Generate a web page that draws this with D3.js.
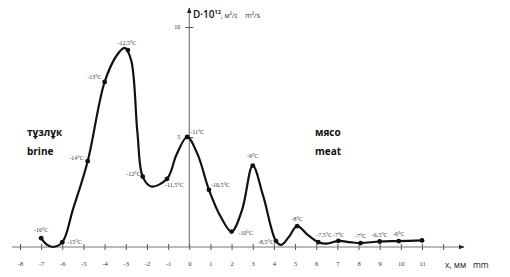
<!DOCTYPE html>
<html><head><meta charset="utf-8">
<script src="https://cdn.jsdelivr.net/npm/d3@7"></script>
<style>body{margin:0;background:#fff}svg{display:block}</style>
</head><body>
<script>
// ---- data ----
const xTicks = [-8,-7,-6,-5,-4,-3,-2,-1,0,1,2,3,4,5,6,7,8,9,10,11,12];
const xTickLabels = ["-8","-7","-6","-5","-4","-3","-2","-1","0","1","2","3","4","5","6","7","8","9","10","11",""];
const yTicks = [5,10];
// marked points
const pointX = [-7,-6,-4.8,-4,-2.9,-2.2,-1.05,-0.1,0.93,2.0,3.0,4.1,5.1,6.1,7.05,8.1,9.0,9.9,11];
const pointD = [0.4,0.22,3.9,7.5,8.95,3.2,3.1,5.0,2.6,0.7,3.7,0.27,0.95,0.22,0.28,0.18,0.25,0.27,0.3];
const pointTemp = ["-16°C","-15°C","-14°C","-13°C","-12,5°C","-12°C","-11,5°C","-11°C","-10,5°C","-10°C","-9°C","-8,5°C","-8°C","-7,5°C","-7°C","-7°C","-6,5°C","-6°C",""];
// smooth curve through points and unmarked extremes
const curveX = [-7,-6.75,-6.45,-6,-5.5,-4.8,-4,-3.4,-3.05,-2.75,-2.45,-2.2,-1.8,-1.05,-0.6,-0.1,0.4,0.93,1.5,2.0,2.5,3.0,3.5,4.1,4.35,4.7,5.1,5.6,6.1,6.5,7.05,7.6,8.1,9.0,9.9,11];
const curveD = [0.4,0.12,0.0,0.22,1.7,3.9,7.5,8.75,9.05,8.5,5.2,3.2,2.75,3.1,4.2,5.0,4.2,2.6,1.35,0.7,1.7,3.7,2.3,0.27,0.1,0.45,0.95,0.55,0.22,0.15,0.28,0.22,0.18,0.25,0.27,0.3];

// ---- drawing ----
const W=510,H=277;
const svg=d3.select("body").append("svg").attr("width",W).attr("height",H);
const x=d3.scaleLinear().domain([-8,11]).range([20,422]);
const y=d3.scaleLinear().domain([0,10]).range([247,27]);

const defs=svg.append("defs");
defs.append("marker").attr("id","arr").attr("viewBox","0 0 10 10").attr("refX",9).attr("refY",5)
  .attr("markerWidth",6).attr("markerHeight",6).attr("orient","auto")
  .append("path").attr("d","M0,1L10,5L0,9Z").attr("fill","#222");

const serif="Liberation Serif, DejaVu Serif, serif";
// x axis
const xg=svg.append("g").attr("transform",`translate(0,${y(0)})`);
xg.call(d3.axisBottom(x).tickValues(xTicks).tickFormat((d,i)=>xTickLabels[i]).tickSize(0).tickPadding(14));
xg.attr("font-family",serif);
xg.select(".domain").remove();
xg.append("line").attr("x1",12).attr("x2",464).attr("stroke","#777").attr("stroke-width",1).attr("marker-end","url(#arr)");
xg.selectAll(".tick line").attr("y1",-3).attr("y2",3).attr("stroke","#555");
xg.selectAll(".tick text").attr("font-size",6.5).attr("fill","#333");

// y axis
const yg=svg.append("g").attr("transform",`translate(${x(0)},0)`);
yg.call(d3.axisLeft(y).tickValues(yTicks).tickSize(0).tickPadding(9));
yg.attr("font-family",serif);
yg.select(".domain").remove();
yg.append("line").attr("y1",y(0)).attr("y2",8).attr("stroke","#666").attr("stroke-width",1).attr("marker-end","url(#arr)");
yg.selectAll(".tick line").attr("x1",-4).attr("x2",4).attr("stroke","#555");
yg.selectAll(".tick text").attr("font-size",6).attr("fill","#333");

// curve
const pts=curveX.map((v,i)=>[v,curveD[i]]);
svg.append("path").datum(pts)
  .attr("d",d3.line().x(d=>x(d[0])).y(d=>y(d[1])).curve(d3.curveCatmullRom.alpha(0.5)))
  .attr("fill","none").attr("stroke","#111").attr("stroke-width",2.2);

// points
const P=pointX.map((v,i)=>({x:v,d:pointD[i],t:pointTemp[i]}));
svg.selectAll("circle.p").data(P).join("circle").attr("class","p")
  .attr("cx",d=>x(d.x)).attr("cy",d=>y(d.d)).attr("r",2.4).attr("fill","#111");

// label placement [dx,dy,anchor]
const lp=[[0,-6,"middle"],[5,2,"start"],[-4,-1,"end"],[-3,-3,"end"],[-1,-5,"middle"],[-2,-1,"end"],[-2,8,"start"],[3,-3,"start"],[2,-3,"start"],[7,3,"start"],[0,-8,"middle"],[-2,3,"end"],[0,-5,"middle"],[-2,-5,"start"],[0,-4,"middle"],[0,-5,"middle"],[0,-5,"middle"],[0,-5,"middle"],[0,0,"middle"]];
svg.selectAll("text.lab").data(P).join("text").attr("class","lab")
  .attr("x",(d,i)=>x(d.x)+lp[i][0]).attr("y",(d,i)=>y(d.d)+lp[i][1])
  .attr("text-anchor",(d,i)=>lp[i][2])
  .attr("font-family",serif).attr("font-size",6).attr("fill","#333").text(d=>d.t);

// titles
const tf="Open Sans, Liberation Sans, sans-serif";
const yl=svg.append("text").attr("x",193).attr("y",18).attr("font-family",tf).attr("fill","#111").attr("xml:space","preserve");
yl.append("tspan").attr("font-size",10).attr("font-weight","600").text("D·10");
yl.append("tspan").attr("font-size",5.5).attr("font-weight","bold").attr("dy",-4).text("12");
yl.append("tspan").attr("font-size",7).attr("dy",4).attr("fill","#333").text(", м²/с    m²/s");

[["тұзлұк",27,136],["brine",27,155],["мясо",315,136],["meat",315,155]].forEach(t=>{
  svg.append("text").attr("x",t[1]).attr("y",t[2]).attr("font-family",tf).attr("font-weight","bold").attr("font-size",10).attr("fill","#111").text(t[0]);
});
svg.append("text").attr("x",445).attr("y",268).attr("font-family",tf).attr("font-size",8.5).attr("fill","#222").attr("xml:space","preserve").text("x, мм   mm");
</script>
</body></html>
